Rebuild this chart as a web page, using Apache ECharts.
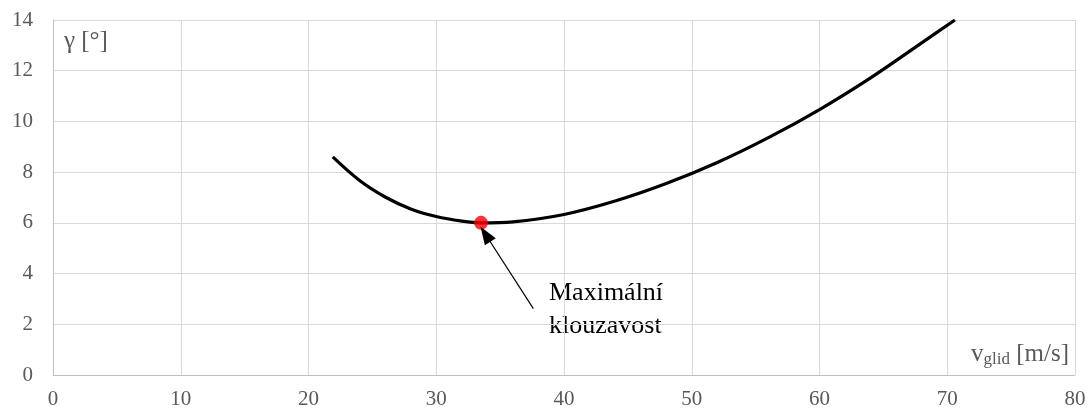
<!DOCTYPE html>
<html>
<head>
<meta charset="utf-8">
<script src="https://cdn.jsdelivr.net/npm/echarts@6/dist/echarts.min.js"></script>
<style>
  html, body { margin: 0; padding: 0; background: #fff; }
  #chart { width: 1090px; height: 412px; }
</style>
</head>
<body>
<div id="chart"></div>
<script>
// Glide speed [m/s] and glide angle [deg] of the polar curve
const glideSpeed = [21.9, 24, 26, 28, 30, 32, 33.5, 36, 40, 44, 48, 52, 56, 60, 64, 68, 70.6];
const glideAngle = [8.6, 7.67, 7.02, 6.55, 6.25, 6.07, 6.0, 6.04, 6.33, 6.86, 7.55, 8.38, 9.36, 10.47, 11.72, 13.1, 14.0];

// Best glide point (max glide ratio)
const bestGlide = [33.5, 6.0];
// Arrow from the annotation text to the best glide point
const arrowFrom = [37.6, 2.62];
const arrowTo = [33.85, 5.55];

const xTicks = { min: 0, max: 80, interval: 10 };
const yTicks = { min: 0, max: 14, interval: 2 };

const serif = '"Liberation Serif", "Times New Roman", serif';

const chart = echarts.init(document.getElementById('chart'), null, { renderer: 'canvas' });

chart.setOption({
  animation: false,
  backgroundColor: '#ffffff',
  grid: { left: 53, right: 15, top: 20, bottom: 37, containLabel: false },
  xAxis: {
    type: 'value',
    min: xTicks.min, max: xTicks.max, interval: xTicks.interval,
    axisLine: { show: true, lineStyle: { color: '#bfbfbf', width: 1 } },
    axisTick: { show: false },
    splitLine: { show: true, lineStyle: { color: '#d9d9d9', width: 1 } },
    axisLabel: { color: '#595959', fontFamily: serif, fontSize: 21, margin: 14 },
    name: 'v{sub|glid} [m/s]',
    nameLocation: 'end',
    nameGap: -6,
    nameTextStyle: {
      fontFamily: serif, fontSize: 25, color: '#595959',
      align: 'right', verticalAlign: 'bottom', padding: [0, 0, 7, 0],
      rich: { sub: { fontFamily: serif, fontSize: 17, color: '#595959', verticalAlign: 'bottom', padding: [10, 0, 0, 0] } }
    }
  },
  yAxis: {
    type: 'value',
    min: yTicks.min, max: yTicks.max, interval: yTicks.interval,
    axisLine: { show: true, lineStyle: { color: '#bfbfbf', width: 1 } },
    axisTick: { show: false },
    splitLine: { show: true, lineStyle: { color: '#d9d9d9', width: 1 } },
    axisLabel: { color: '#595959', fontFamily: serif, fontSize: 21, margin: 20 },
    name: 'γ [°]',
    nameLocation: 'end',
    nameGap: -9,
    nameTextStyle: {
      fontFamily: serif, fontSize: 25, color: '#595959',
      align: 'left', verticalAlign: 'top', padding: [0, 0, 0, 11]
    }
  },
  series: [
    {
      type: 'line',
      data: glideSpeed.map((v, i) => [v, glideAngle[i]]),
      smooth: 0.35,
      showSymbol: false,
      lineStyle: { color: '#000000', width: 3.2 },
      z: 2
    },
    {
      type: 'scatter',
      data: [bestGlide],
      symbolSize: 14,
      itemStyle: { color: '#ff0000' },
      z: 4,
      markLine: {
        silent: true,
        symbol: ['none', 'triangle'],
        symbolSize: [13, 18],
        label: { show: false },
        lineStyle: { color: '#000000', width: 1.2, type: 'solid' },
        data: [[{ coord: arrowFrom }, { coord: arrowTo }]]
      }
    }
  ],
  graphic: [
    {
      type: 'text',
      left: 549,
      top: 277,
      style: {
        text: 'Maximální\nklouzavost',
        font: '26px ' + serif,
        fill: '#000000',
        lineHeight: 33
      }
    }
  ]
});
</script>
</body>
</html>
